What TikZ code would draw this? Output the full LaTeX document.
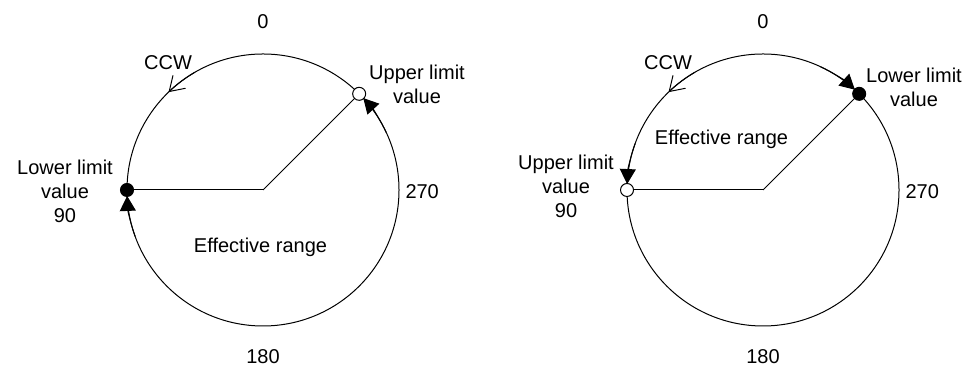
\documentclass[tikz,border=0pt]{standalone}
\usepackage{fontspec}
\setmainfont{Liberation Sans}
\usetikzlibrary{positioning,calc,arrows.meta}
\tikzset{bpt/.style={draw,circle,fill=black,minimum size=6.5pt,inner sep=0pt}  }
\tikzset{wpt/.style={draw,circle,fill=white,minimum size=6.5pt,inner sep=0pt}  }
\tikzset{lbl/.style={font=\fontsize{10}{12}\selectfont,inner sep=0pt,align=center}  }
\tikzset{>={Triangle[length=7.5pt,width=8pt]}}
\tikzset{ccw/.style={-{Straight Barb[length=7pt,width=9pt]}}  }

\begin{document}
\begin{tikzpicture}[x=0.5pt,y=0.5pt,line width=0.5pt]
\useasboundingbox (0,0) rectangle (973,367);
  % both dials: range runs ccw from lower (\la) to upper (\ua)
  \def\rr{136}
  \foreach \k/\cx/\la/\ua in {1/263/180/45,2/763/45/180}
  {
    \begin{scope}[shift={(\cx,177)}]
      \pgfmathsetmacro{\lpa}{\la+20};
      \pgfmathsetmacro{\lpb}{\la+2.5};
      \pgfmathsetmacro{\upa}{\ua-20};
      \pgfmathsetmacro{\upb}{\ua-2.5};
      \coordinate (o\k) at (0,0);
      \draw (o\k) circle (\rr);
      \node[bpt] (lo\k) at (\la:\rr) {};
      \node[wpt] (up\k) at (\ua:\rr) {};
      \draw[-] (o\k)--(lo\k);
      \draw[-] (o\k)--(up\k);
      \draw[->] (\lpa:\rr) arc[start angle=\lpa, end angle=\lpb, radius=\rr];
      \draw[->] (\upa:\rr) arc[start angle=\upa, end angle=\upb, radius=\rr];
      \draw[ccw] (120:\rr) arc[start angle=120, end angle=134, radius=\rr];
      \node[lbl,anchor=base] (zero\k) at (0,161.7) {0};
      \node[lbl,anchor=base] (half\k) at (0,-173.3) {180};
      \node[lbl,anchor=base west] (tq\k) at (142,-8.3) {270};
      \node[lbl,anchor=base] (ccw\k) at (-95,120) {CCW};
    \end{scope}
  }
  \node[lbl] (lolbl1) at (65,176) {Lower limit\\value\\90};
  \node[lbl] (uplbl1) at (417,283) {Upper limit\\value};
  \node[lbl,anchor=base] (rng1) at (260.5,114) {Effective range};
  \node[lbl] (uplbl2) at (566,181) {Upper limit\\value\\90};
  \node[lbl] (lolbl2) at (914,280) {Lower limit\\value};
  \node[lbl,anchor=base] (rng2) at (721.5,222) {Effective range};
\end{tikzpicture}
\end{document}
